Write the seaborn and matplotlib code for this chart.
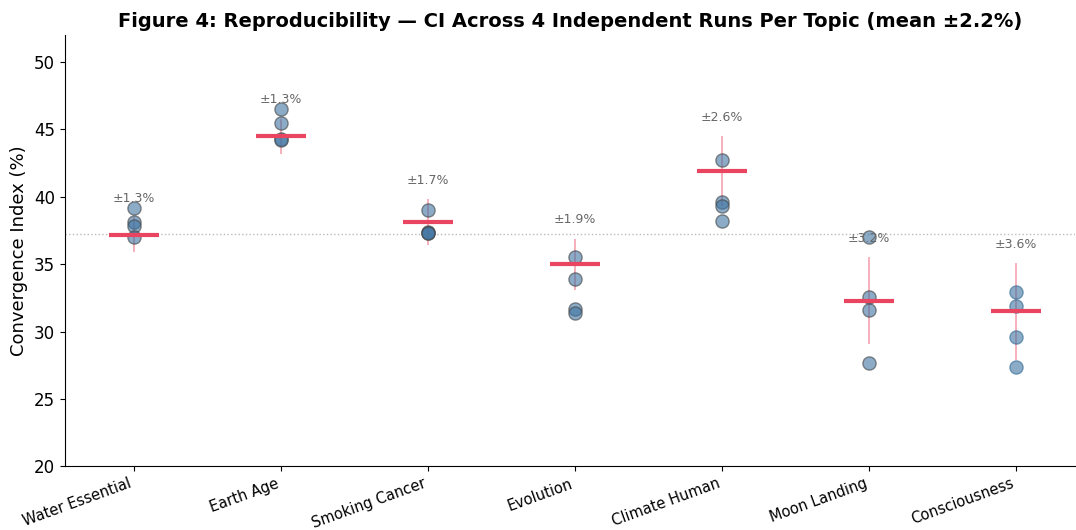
import numpy as np
import pandas as pd
import matplotlib
matplotlib.use("Agg")
import matplotlib.pyplot as plt
import seaborn as sns

topics = ["Water Essential", "Earth Age", "Smoking Cancer", "Evolution",
          "Climate Human", "Moon Landing", "Consciousness"]
run1 = [39.2, 46.5, 39.0, 35.5, 42.7, 37.0, 32.9]
run2 = [38.1, 45.5, 37.4, 33.9, 39.6, 32.6, 31.9]
run3 = [37.8, 44.3, 37.3, 31.7, 39.3, 31.6, 29.6]
run4 = [37.0, 44.2, 37.3, 31.4, 38.2, 27.7, 27.4]
means = [37.2, 44.5, 38.1, 35.0, 41.9, 32.3, 31.5]
sds = [1.3, 1.3, 1.7, 1.9, 2.6, 3.2, 3.6]

sns.set_style("ticks")
plt.rcParams.update({
    'font.family': ['DejaVu Sans'],
    'text.color': 'black',
    'axes.labelcolor': 'black',
    'axes.edgecolor': 'black',
    'xtick.color': 'black',
    'ytick.color': 'black',
})

rows = []
for runs in (run1, run2, run3, run4):
    for t, v in zip(topics, runs):
        rows.append({"topic": t, "ci": v})
df = pd.DataFrame(rows)

fig, ax = plt.subplots(figsize=(10.76, 5.30), dpi=100)

overall = np.mean(means)
ax.axhline(overall, color="#bbbbbb", linestyle=":", linewidth=1, zorder=0)

xs = np.arange(len(topics))
ax.vlines(xs, np.array(means) - np.array(sds), np.array(means) + np.array(sds),
          color="#E94560", alpha=0.5, linewidth=1.2, zorder=1)

sns.stripplot(data=df, x="topic", y="ci", order=topics, jitter=False,
              size=9.5, color="#3E73A0", alpha=0.6,
              linewidth=1, ax=ax, zorder=2)
ax.collections[-1].set_edgecolor("#336a94")

ax.hlines(means, xs - 0.17, xs + 0.17, color="#E94560", linewidth=3, zorder=3)

for x, m, s in zip(xs, means, sds):
    ax.text(x, m + s + 0.9, f"±{s:.1f}%", ha="center", va="bottom",
            fontsize=9, color="#666666")

ax.set_ylim(20, 52)
ax.set_xlim(-0.47, 6.4)
ax.set_xlabel("")
ax.set_ylabel("Convergence Index (%)", fontsize=13)
ax.set_title("Figure 4: Reproducibility — CI Across 4 Independent Runs Per Topic (mean ±2.2%)",
             fontsize=14, fontweight="bold")
ax.tick_params(axis="y", labelsize=12)
ax.tick_params(axis="x", labelsize=10.5)
plt.setp(ax.get_xticklabels(), rotation=20, ha="right")
sns.despine(ax=ax)

fig.subplots_adjust(left=0.06, right=0.999, top=0.934, bottom=0.12)
fig.savefig("out.png", dpi=100)
